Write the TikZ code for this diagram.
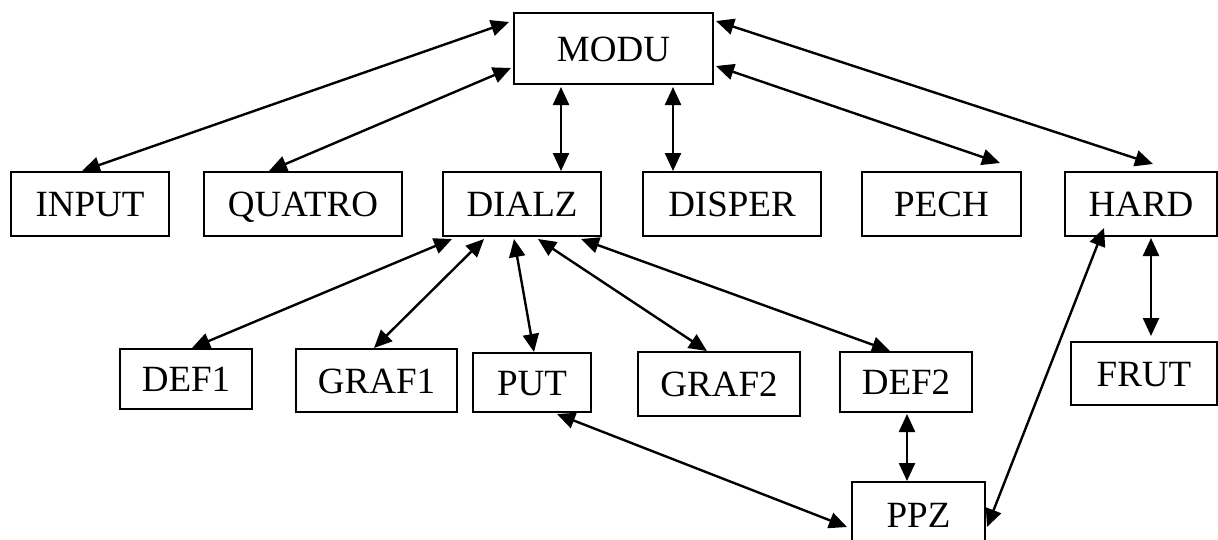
\documentclass[tikz,border=0pt]{standalone}
\usepackage{fontspec}
\setmainfont{Liberation Serif}
\usetikzlibrary{arrows.meta,calc}
\begin{document}
\begin{tikzpicture}[x=1pt,y=-1pt,
  box/.style={draw,line width=2pt,inner sep=0pt,text height=25pt,text depth=0pt,
    font=\fontsize{37}{41}\selectfont},
  link/.style={line width=2.4pt,{Triangle[length=18pt,width=16pt]}-{Triangle[length=18pt,width=16pt]}}]
\useasboundingbox (0,0) rectangle (1218,539);
\node[box,minimum width=199pt,minimum height=71pt] (MODU) at (613.5,48.5) {MODU};
\node[box,minimum width=158pt,minimum height=64pt] (INPUT) at (90,204) {INPUT};
\node[box,minimum width=198pt,minimum height=64pt] (QUATRO) at (303,204) {QUATRO};
\node[box,minimum width=158pt,minimum height=64pt] (DIALZ) at (522,204) {DIALZ};
\node[box,minimum width=178pt,minimum height=64pt] (DISPER) at (732,204) {DISPER};
\node[box,minimum width=159pt,minimum height=64pt] (PECH) at (941.5,204) {PECH};
\node[box,minimum width=152pt,minimum height=64pt] (HARD) at (1141,204) {HARD};
\node[box,minimum width=132pt,minimum height=60pt] (DEF1) at (186,379) {DEF1};
\node[box,minimum width=161pt,minimum height=63pt] (GRAF1) at (376.5,380.5) {GRAF1};
\node[box,minimum width=118pt,minimum height=59pt] (PUT) at (532,382.5) {PUT};
\node[box,minimum width=162pt,minimum height=64pt] (GRAF2) at (719,384) {GRAF2};
\node[box,minimum width=132pt,minimum height=60pt] (DEF2) at (906,382) {DEF2};
\node[box,minimum width=146pt,minimum height=63pt] (FRUT) at (1144,373.5) {FRUT};
\node[box,minimum width=133pt,minimum height=66pt] (PPZ) at (918.5,515) {PPZ};

\draw[link] ($(INPUT.north)+(-8,0)$) -- ($(MODU.north west)+(-4,10)$);
\draw[link] ($(QUATRO.north)+(-34,0)$) -- ($(MODU.south west)+(-2,-17)$);
\draw[link] ($(MODU.south)+(-52.5,2)$) -- ($(DIALZ.north)+(39,0)$);
\draw[link] ($(MODU.south)+(59.5,2)$) -- ($(DISPER.north)+(-59,0)$);
\draw[link] ($(MODU.south east)+(2,-19)$) -- ($(PECH.north)+(58.5,-8)$);
\draw[link] ($(MODU.north east)+(2,9)$) -- ($(HARD.north)+(12,-7)$);
\draw[link] ($(HARD.south)+(10,1)$) -- ($(FRUT.north)+(7,-5)$);
\draw[link] ($(HARD.south)+(-37,-9)$) -- ($(PPZ.east)+(1,12)$);
\draw[link] ($(DIALZ.south west)+(10,2)$) -- ($(DEF1.north)+(6,0)$);
\draw[link] ($(DIALZ.south)+(-38,2)$) -- ($(GRAF1.north)+(-2.5,0)$);
\draw[link] ($(DIALZ.south)+(-8,2)$) -- ($(PUT.north)+(2,0)$);
\draw[link] ($(DIALZ.south)+(16,2)$) -- ($(GRAF2.north)+(-12,0)$);
\draw[link] ($(DIALZ.south)+(59,2)$) -- ($(DEF2.north)+(-16,0)$);
\draw[link] ($(DEF2.south)+(1,1)$) -- ($(PPZ.north)+(-11.5,0)$);
\draw[link] ($(PUT.south)+(25,1)$) -- ($(PPZ.west)+(-4,12)$);
\end{tikzpicture}
\end{document}
